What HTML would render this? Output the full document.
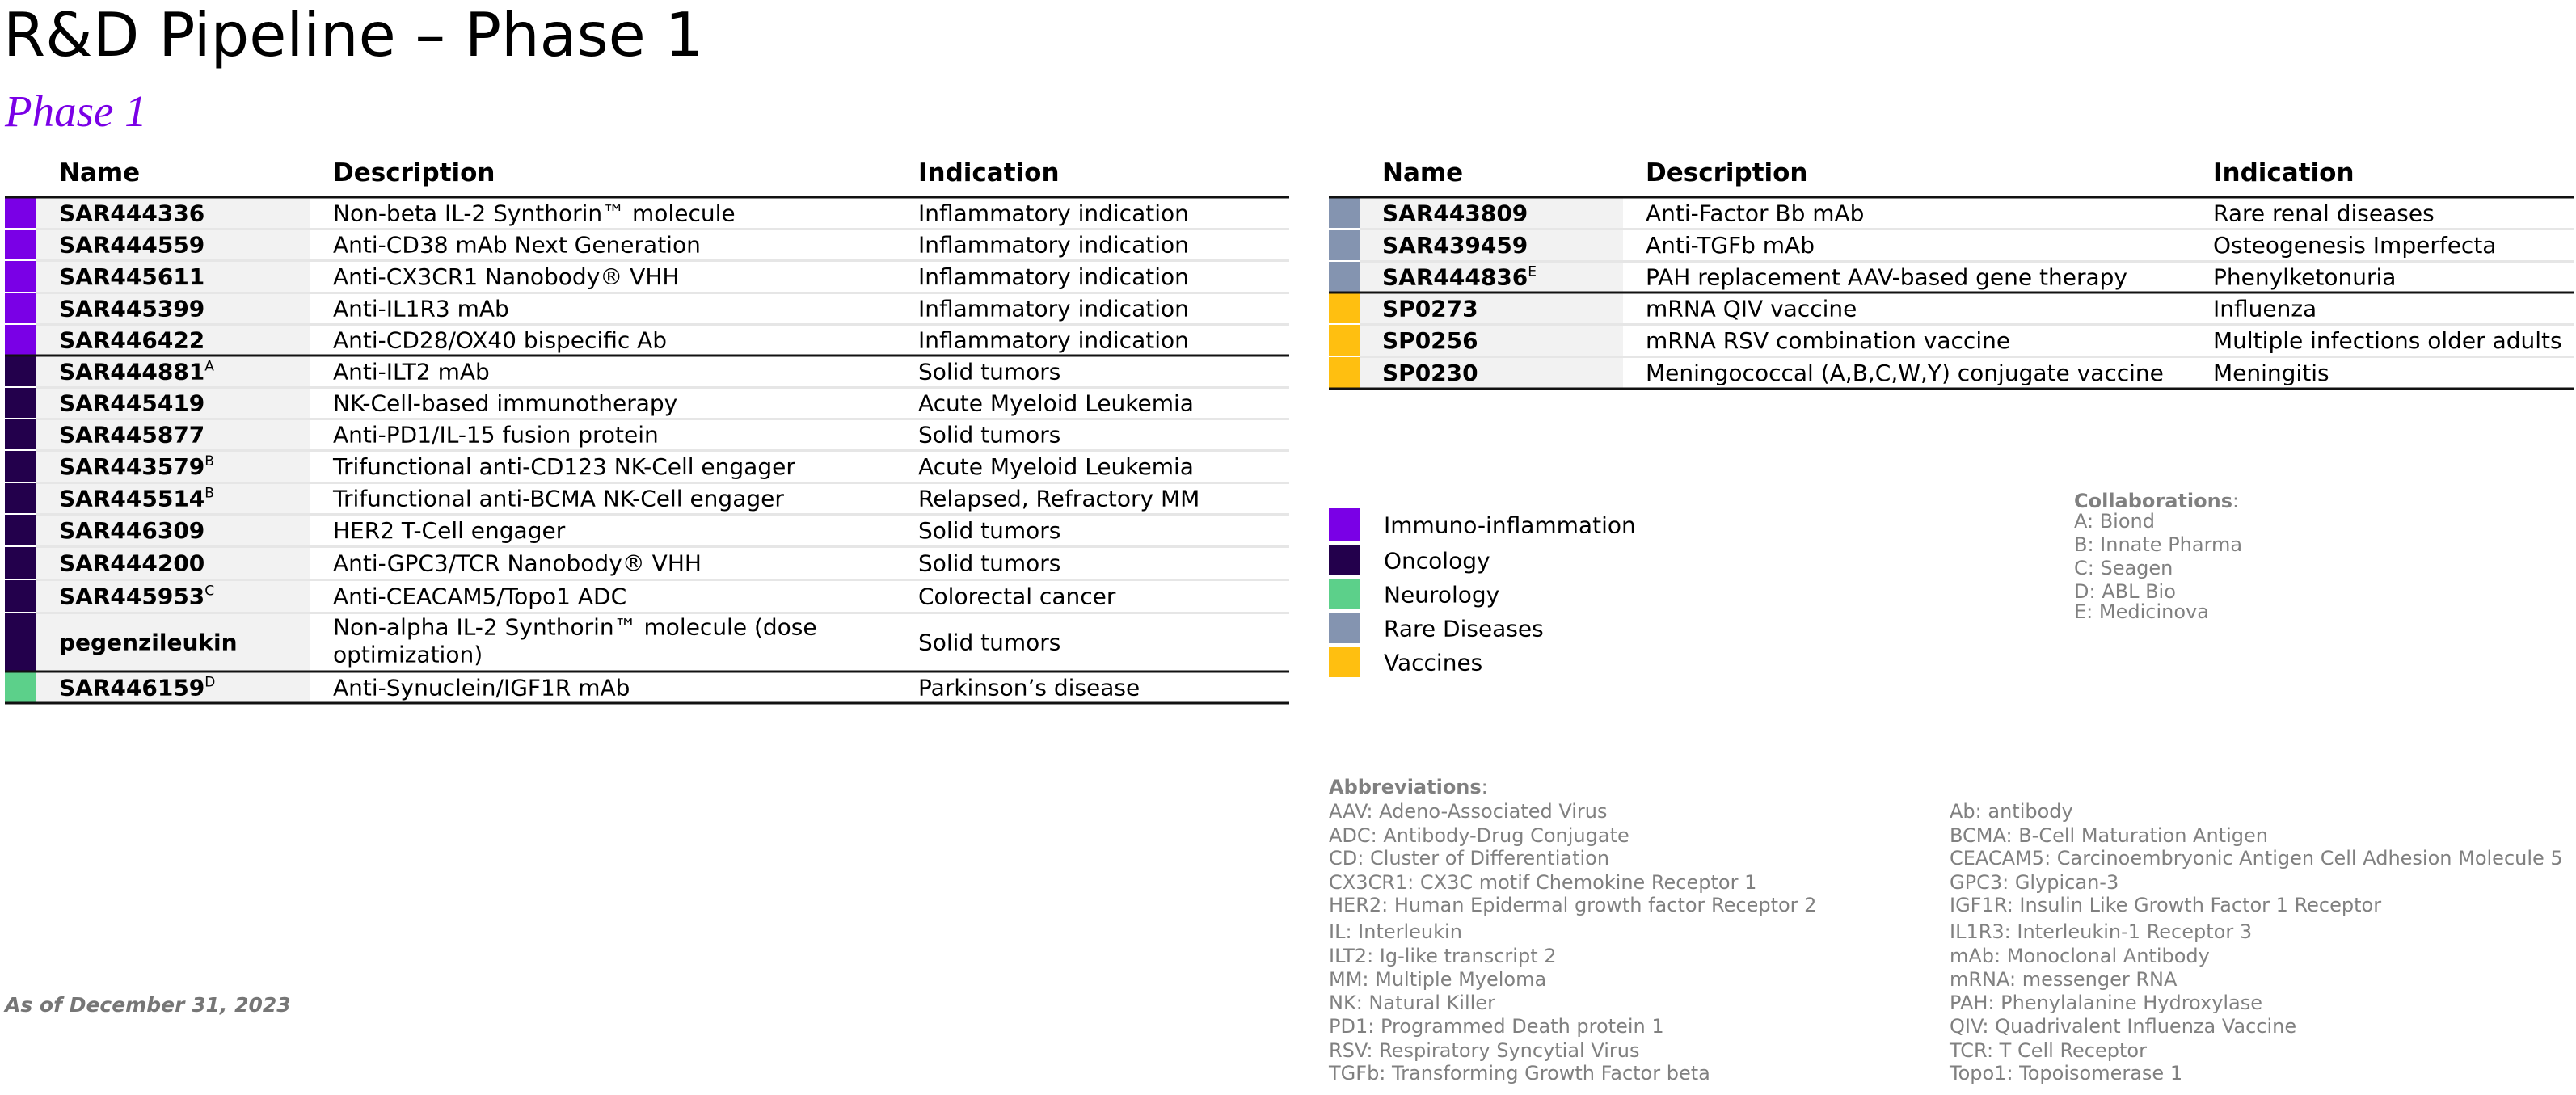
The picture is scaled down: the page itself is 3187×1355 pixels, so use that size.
<!DOCTYPE html>
<html><head><meta charset="utf-8"><style>
html,body{margin:0;padding:0;background:#fff}
svg{display:block}
text{font-family:"DejaVu Sans","Liberation Sans",sans-serif}
</style></head><body>
<svg id="s" width="3187" height="1355" viewBox="0 0 3187 1355" xmlns="http://www.w3.org/2000/svg">
<text x="4" y="69" font-size="75" fill="#000">R&amp;D Pipeline – Phase 1</text>
<text x="6" y="156" font-size="55" font-style="italic" fill="#7a00e6" style="font-family:'Liberation Serif',serif">Phase 1</text>
<text x="6" y="1252" font-size="25" font-weight="bold" font-style="italic" fill="#767676">As of December 31, 2023</text>
<g id="g"></g>
</svg>
<script>
const NS='http://www.w3.org/2000/svg';
const g=document.getElementById('g');
const colors={imm:'#7a00e6',onc:'#23004c',neu:'#5cd08a',rare:'#8494b0',vac:'#ffbf10'};
const leftRows=[
['SAR444336','','Non-beta IL-2 Synthorin™ molecule','Inflammatory indication','imm'],
['SAR444559','','Anti-CD38 mAb Next Generation','Inflammatory indication','imm'],
['SAR445611','','Anti-CX3CR1 Nanobody® VHH','Inflammatory indication','imm'],
['SAR445399','','Anti-IL1R3 mAb','Inflammatory indication','imm'],
['SAR446422','','Anti-CD28/OX40 bispecific Ab','Inflammatory indication','imm'],
['SAR444881','A','Anti-ILT2 mAb','Solid tumors','onc'],
['SAR445419','','NK-Cell-based immunotherapy','Acute Myeloid Leukemia','onc'],
['SAR445877','','Anti-PD1/IL-15 fusion protein','Solid tumors','onc'],
['SAR443579','B','Trifunctional anti-CD123 NK-Cell engager','Acute Myeloid Leukemia','onc'],
['SAR445514','B','Trifunctional anti-BCMA NK-Cell engager','Relapsed, Refractory MM','onc'],
['SAR446309','','HER2 T-Cell engager','Solid tumors','onc'],
['SAR444200','','Anti-GPC3/TCR Nanobody® VHH','Solid tumors','onc'],
['SAR445953','C','Anti-CEACAM5/Topo1 ADC','Colorectal cancer','onc'],
['pegenzileukin','','Non-alpha IL-2 Synthorin™ molecule (dose|optimization)','Solid tumors','onc'],
['SAR446159','D','Anti-Synuclein/IGF1R mAb','Parkinson’s disease','neu']];
const leftB=[244,283,322,362,401,440,479,518,557,597,636,676,717,758,831,870];
const leftThick=[244,440,831,870];
const rightRows=[
['SAR443809','','Anti-Factor Bb mAb','Rare renal diseases','rare'],
['SAR439459','','Anti-TGFb mAb','Osteogenesis Imperfecta','rare'],
['SAR444836','E','PAH replacement AAV-based gene therapy','Phenylketonuria','rare'],
['SP0273','','mRNA QIV vaccine','Influenza','vac'],
['SP0256','','mRNA RSV combination vaccine','Multiple infections older adults','vac'],
['SP0230','','Meningococcal (A,B,C,W,Y) conjugate vaccine','Meningitis','vac']];
const rightB=[244,283,323,362,401,441,481];
const rightThick=[244,362,481];
function el(tag,attrs,txt){const e=document.createElementNS(NS,tag);for(const k in attrs)e.setAttribute(k,attrs[k]);if(txt!==undefined)e.textContent=txt;g.appendChild(e);return e;}
function table(rows,B,thick,x0,xGrey,xName,xDesc,xInd,xEnd,key){
  let h;
  h=el('text',{x:xName,y:224,'font-size':31,'font-weight':'bold',fill:'#000'},'Name');
  
  
  h=el('text',{x:xDesc,y:224,'font-size':31,'font-weight':'bold',fill:'#000'},'Description');
  
  
  h=el('text',{x:xInd,y:224,'font-size':31,'font-weight':'bold',fill:'#000'},'Indication');
  
  
  rows.forEach((r,i)=>{
    const y0=B[i],y1=B[i+1],c=(y0+y1)/2;
    const bar=el('rect',{x:x0,y:y0,width:39,height:y1-y0,fill:colors[r[4]]});
    
    
    const grey=el('rect',{x:x0+39,y:y0,width:xGrey-x0-39,height:y1-y0,fill:'#f2f2f2'});
    
    
    const nm=el('text',{x:xName,y:c+10,'font-size':28,'font-weight':'bold',fill:'#000'},r[0]);
    
    
    if(r[1]){const sp=document.createElementNS(NS,'tspan');sp.setAttribute('font-size','17');sp.setAttribute('font-weight','normal');sp.setAttribute('dy','-11');sp.textContent=r[1];nm.appendChild(sp);}
    const parts=r[2].split('|');
    parts.forEach((p,j)=>{
      const dy=parts.length>1?(j===0?-19:15):0;
      const d=el('text',{x:xDesc,y:c+10+dy,'font-size':28,fill:'#000'},p);
      
      
    });
    const ind=el('text',{x:xInd,y:c+10,'font-size':28,fill:'#000'},r[3]);
    
    
    if(i>0&&!thick.includes(y0)){
      const ln=el('rect',{x:x0+39,y:y0-1,width:xEnd-x0-39,height:3,fill:'#e6e6e6'});
      
      
      const wl=el('rect',{x:x0,y:y0-1,width:39,height:2,fill:'#fff'});
      
      
    }
  });
  thick.forEach(y=>{
    const t=el('rect',{x:x0,y:y-1.5,width:xEnd-x0,height:3,fill:'#111'});
    
    
  });
}
table(leftRows,leftB,leftThick,6,383,73,412,1136,1595,'left-table');
table(rightRows,rightB,rightThick,1644,2008,1710,2036,2738,3185,'right-table');
const legend=[['Immuno-inflammation','imm',629,670],['Oncology','onc',675,712],['Neurology','neu',717,754],['Rare Diseases','rare',759,796],['Vaccines','vac',801,838]];
legend.forEach(l=>{
  const r=el('rect',{x:1644,y:l[2],width:39,height:l[3]-l[2],fill:colors[l[1]]});
  
  
  const t=el('text',{x:1712,y:(l[2]+l[3])/2+10,'font-size':28,fill:'#000'},l[0]);
  
  
});
const collab=['A: Biond','B: Innate Pharma','C: Seagen','D: ABL Bio','E: Medicinova'];
const collabY=[644,673,702,731,756];
let ct=el('text',{x:2566,y:628,'font-size':24,'font-weight':'bold',fill:'#808080'},'Collaborations');


const cc=document.createElementNS(NS,'tspan');cc.setAttribute('font-weight','normal');cc.textContent=':';ct.appendChild(cc);
collab.forEach((c,i)=>{
  const t=el('text',{x:2566,y:collabY[i]+9,'font-size':24,fill:'#808080'},c);
  
  
});
const abL=['AAV: Adeno-Associated Virus','ADC: Antibody-Drug Conjugate','CD: Cluster of Differentiation','CX3CR1: CX3C motif Chemokine Receptor 1','HER2: Human Epidermal growth factor Receptor 2','IL: Interleukin','ILT2: Ig-like transcript 2','MM: Multiple Myeloma','NK: Natural Killer','PD1: Programmed Death protein 1','RSV: Respiratory Syncytial Virus','TGFb: Transforming Growth Factor beta'];
const abR=['Ab: antibody','BCMA: B-Cell Maturation Antigen','CEACAM5: Carcinoembryonic Antigen Cell Adhesion Molecule 5','GPC3: Glypican-3','IGF1R: Insulin Like Growth Factor 1 Receptor','IL1R3: Interleukin-1 Receptor 3','mAb: Monoclonal Antibody','mRNA: messenger RNA','PAH: Phenylalanine Hydroxylase','QIV: Quadrivalent Influenza Vaccine','TCR: T Cell Receptor','Topo1: Topoisomerase 1'];
const abY=[1003,1033,1061,1091,1119,1152,1182,1211,1240,1269,1299,1327];
let at=el('text',{x:1644,y:982,'font-size':24,'font-weight':'bold',fill:'#808080'},'Abbreviations');


const ac=document.createElementNS(NS,'tspan');ac.setAttribute('font-weight','normal');ac.textContent=':';at.appendChild(ac);
abL.forEach((a,i)=>{
  const t=el('text',{x:1644,y:abY[i]+9,'font-size':24,fill:'#808080'},a);
  
  
});
abR.forEach((a,i)=>{
  const t=el('text',{x:2412,y:abY[i]+9,'font-size':24,fill:'#808080'},a);
  
  
});
</script>
</body></html>
